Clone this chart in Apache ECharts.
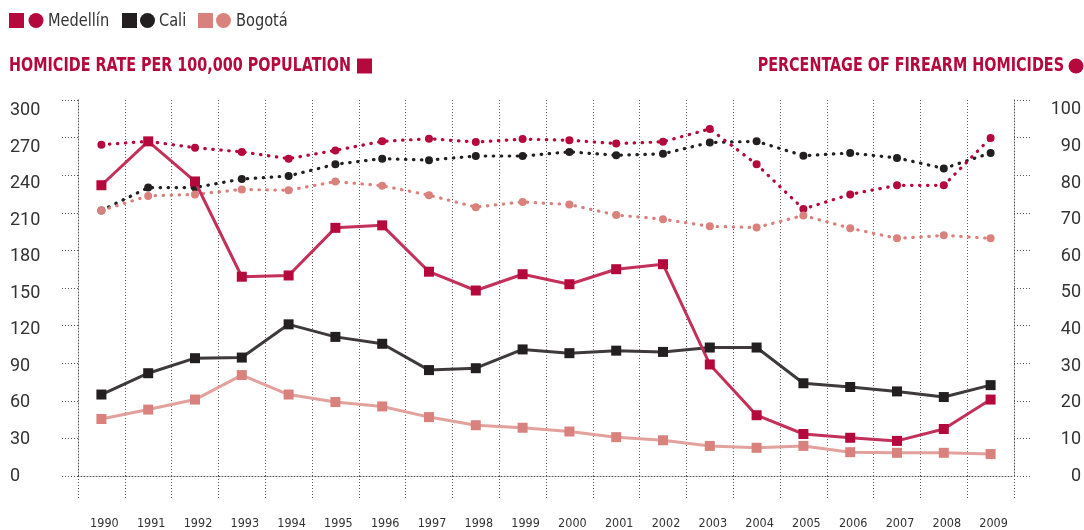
<!DOCTYPE html>
<html>
<head>
<meta charset="utf-8">
<script src="https://cdn.jsdelivr.net/npm/echarts@6/dist/echarts.min.js"></script>
<style>
html,body{margin:0;padding:0;background:#fff;}
#chart{width:1084px;height:530px;}
</style>
</head>
<body>
<div id="chart"></div>
<script>
const years = ['1990','1991','1992','1993','1994','1995','1996','1997','1998','1999','2000','2001','2002','2003','2004','2005','2006','2007','2008','2009'];
const cities = ['Medellín','Cali','Bogotá'];
// Homicide rate per 100,000 (left axis)
const medellinRate = [232,267,235,159,160,198,200,163,148,161,153,165,169,89,48.5,33.5,30.5,28,37.5,61];
const caliRate     = [65,82,94,94.5,121,111,105.5,84.5,86,101,98,100,99,102.5,102.5,74,71,67.5,63,72.5];
const bogotaRate   = [45.5,53,61,80.5,65,59,55.5,47,40.5,38.5,35.5,31,28.5,24,22.5,24,19,18.5,18.5,17.5];
// Percentage of firearm homicides (right axis)
const medellinFirearm = [88.1,89,87.3,86.2,84.4,86.6,89,89.7,88.8,89.6,89.3,88.4,88.9,92.3,82.9,71,74.9,77.3,77.3,89.9];
const caliFirearm     = [70.6,76.7,76.7,79,79.8,82.9,84.4,84,85.1,85.1,86.2,85.3,85.7,88.7,89,85.2,85.9,84.6,81.8,85.9];
const bogotaFirearm   = [70.6,74.5,74.9,76.2,76,78.3,77.2,74.7,71.5,72.9,72.2,69.4,68.3,66.4,66.1,69.3,65.9,63.2,64,63.2];
const rateTicks = {min:0, max:300, step:30};
const pctTicks = {min:0, max:100, step:10};
const titles = ['HOMICIDE RATE PER 100,000 POPULATION','PERCENTAGE OF FIREARM HOMICIDES'];

const RED = '#b5083c', BLACK = '#231f20', PINK = '#d9827d';
const RED_L = '#c3305a', BLACK_L = '#3e3a3b', PINK_L = '#e2a19d';
const narrow = "'Liberation Sans Narrow','DejaVu Sans Condensed',sans-serif";
const numFont = "Roboto, 'Liberation Sans', sans-serif";

const chart = echarts.init(document.getElementById('chart'), null, {renderer:'canvas'});

const dotted = {type:[0.5,7.5], cap:'round', width:3.2};
function rateSeries(name, data, color, lineColor){
  return {name, type:'line', data, yAxisIndex:0, symbol:'rect', symbolSize:10,
    itemStyle:{color}, lineStyle:{color:lineColor, width:3}, z:5, animation:false};
}
function pctSeries(name, data, color){
  return {name, type:'line', data, yAxisIndex:1, symbol:'circle', symbolSize:8,
    itemStyle:{color}, lineStyle:Object.assign({color}, dotted), z:3, animation:false};
}

const axisDot = {type:[1,2], color:'#555', width:1};

const option = {
  animation:false,
  grid:{left:78, right:69, top:100, bottom:53, containLabel:false},
  xAxis:{
    type:'category', data:years, boundaryGap:true, offset:15,
    axisLine:{show:true, lineStyle:axisDot},
    axisTick:{show:true, length:24, interval:0, lineStyle:axisDot},
    axisLabel:{interval:0, margin:26, fontSize:12.5, color:'#333', fontFamily:narrow, padding:[0,0,0,6]},
    splitLine:{show:true, interval:0, lineStyle:{type:[1,2], color:'#666', width:1}}
  },
  yAxis:[
    {type:'value', position:'left', min:rateTicks.min, max:rateTicks.max, interval:rateTicks.step,
     axisLine:{show:true, lineStyle:axisDot}, axisTick:{show:true, length:16, lineStyle:axisDot},
     axisLabel:{show:false}, splitLine:{show:false}},
    {type:'value', position:'right', min:pctTicks.min, max:pctTicks.max, interval:pctTicks.step,
     axisLine:{show:true, lineStyle:axisDot}, axisTick:{show:true, length:18, lineStyle:axisDot},
     axisLabel:{show:false}, splitLine:{show:false}},
    {type:'value', position:'left', min:0, max:308.6, interval:rateTicks.step,
     axisLine:{show:false}, axisTick:{show:false}, splitLine:{show:false},
     axisLabel:{align:'left', margin:68, fontSize:18, color:'#333', fontFamily:numFont, showMaxLabel:false,
       formatter:v => (v % 30 === 0 && v <= 300) ? String(v) : ''}},
    {type:'value', position:'right', min:0, max:102.7, interval:pctTicks.step,
     axisLine:{show:false}, axisTick:{show:false}, splitLine:{show:false},
     axisLabel:{align:'right', margin:67, fontSize:18, color:'#333', fontFamily:numFont, showMaxLabel:false,
       formatter:v => (v % 10 === 0 && v <= 100) ? String(v) : ''}}
  ],
  series:[
    pctSeries('Cali %', caliFirearm, BLACK),
    pctSeries('Medellín %', medellinFirearm, RED),
    pctSeries('Bogotá %', bogotaFirearm, PINK),
    rateSeries('Bogotá', bogotaRate, PINK, PINK_L),
    rateSeries('Cali', caliRate, BLACK, BLACK_L),
    rateSeries('Medellín', medellinRate, RED, RED_L)
  ],
  graphic:[
    {type:'rect', shape:{x:9,y:13,width:15,height:15}, style:{fill:RED}},
    {type:'circle', shape:{cx:36,cy:20.5,r:7.5}, style:{fill:RED}},
    {type:'text', x:48, y:21, scaleX:0.9, style:{text:cities[0], fill:'#333', font:"18px "+narrow, textVerticalAlign:'middle'}},
    {type:'rect', shape:{x:122,y:13,width:15,height:15}, style:{fill:BLACK}},
    {type:'circle', shape:{cx:147.5,cy:20.5,r:7.5}, style:{fill:BLACK}},
    {type:'text', x:159, y:21, scaleX:0.9, style:{text:cities[1], fill:'#333', font:"18px "+narrow, textVerticalAlign:'middle'}},
    {type:'rect', shape:{x:198,y:13,width:15,height:15}, style:{fill:PINK}},
    {type:'circle', shape:{cx:223.5,cy:20.5,r:7.5}, style:{fill:PINK}},
    {type:'text', x:236, y:21, scaleX:0.9, style:{text:cities[2], fill:'#333', font:"18px "+narrow, textVerticalAlign:'middle'}},
    {type:'text', x:9, y:66.5, scaleX:0.84, style:{text:titles[0], fill:RED, font:"bold 19px "+narrow, textVerticalAlign:'middle'}},
    {type:'rect', shape:{x:357,y:58.5,width:15,height:15}, style:{fill:RED}},
    {type:'text', x:1064, y:66.5, scaleX:0.84, style:{text:titles[1], fill:RED, font:"bold 19px "+narrow, textAlign:'right', textVerticalAlign:'middle'}},
    {type:'circle', shape:{cx:1076,cy:66,r:7.5}, style:{fill:RED}}
  ]
};
chart.setOption(option);
</script>
</body>
</html>
